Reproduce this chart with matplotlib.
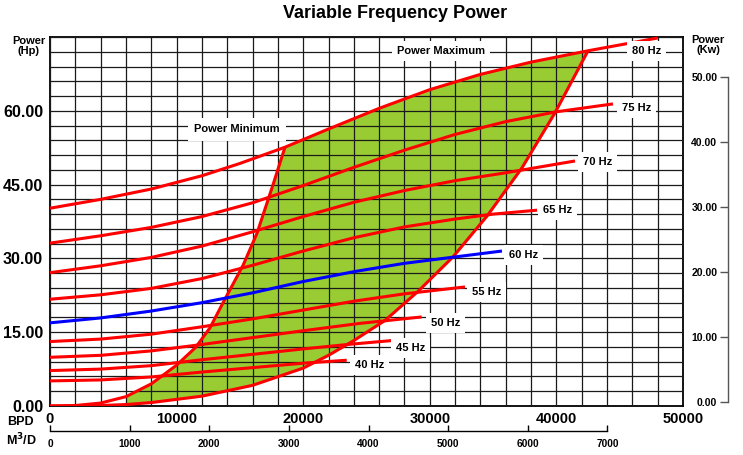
import numpy as np
import matplotlib
matplotlib.use("Agg")
import matplotlib.pyplot as plt
from matplotlib.ticker import MultipleLocator, FixedLocator

plt.rcParams['font.family'] = ['Liberation Sans', 'DejaVu Sans']
plt.rcParams['font.weight'] = 'bold'

# ---------------- data (BPD, Hp) ----------------
hz80_x = [0, 4000, 8000, 12000, 15000, 18560, 22000, 26000, 30000, 34000, 38000, 42500, 48000]
hz80_y = [40.2, 42.0, 44.1, 46.8, 49.3, 52.6, 56.3, 60.5, 64.3, 67.4, 69.9, 72.2, 74.8]

hz75_x = [0, 4000, 8000, 12000, 16000, 20000, 24000, 28000, 32000, 36000, 40000, 44470]
hz75_y = [33.1, 34.6, 36.3, 38.5, 41.3, 44.8, 48.5, 52.0, 55.2, 57.8, 59.8, 61.4]

hz70_x = [0, 4000, 8000, 12000, 16000, 20000, 24000, 28000, 32000, 36000, 41470]
hz70_y = [27.1, 28.5, 30.2, 32.5, 35.4, 38.5, 41.4, 43.8, 45.8, 47.4, 49.8]

hz65_x = [0, 4000, 8000, 12000, 16000, 20000, 24000, 28000, 32000, 35000, 38470]
hz65_y = [21.7, 22.6, 23.9, 25.9, 28.6, 31.5, 34.2, 36.4, 38.0, 39.0, 39.8]

hz60_x = [0, 4000, 8000, 12000, 16000, 20000, 24000, 28000, 32000, 35700]
hz60_y = [16.9, 17.9, 19.3, 21.0, 23.0, 25.3, 27.3, 29.0, 30.3, 31.5]

hz55_x = [0, 4000, 8000, 12000, 16000, 20000, 24000, 28000, 32780]
hz55_y = [13.1, 13.6, 14.6, 16.1, 17.7, 19.5, 21.3, 22.8, 24.2]

hz50_x = [0, 4000, 8000, 12000, 16000, 20000, 24500, 29360]
hz50_y = [9.9, 10.3, 11.2, 12.5, 13.9, 15.3, 16.8, 18.1]

hz45_x = [0, 4000, 8000, 12000, 16000, 20000, 23500, 27000]
hz45_y = [7.2, 7.5, 8.2, 9.4, 10.5, 11.6, 12.5, 13.3]

hz40_x = [0, 4000, 8000, 12000, 16000, 20000, 23440]
hz40_y = [5.1, 5.3, 5.9, 6.9, 7.8, 8.7, 9.3]

min_x = [0, 2000, 4000, 6000, 8000, 10000, 11500, 12640, 13670, 15250, 16350, 17620, 18560]
min_y = [0, 0.1, 0.6, 1.9, 4.5, 8.3, 11.9, 15.9, 21.0, 28.6, 35.1, 45.0, 52.6]

max_x = [0, 4000, 6000, 8000, 12000, 16000, 20000, 22000, 24000, 26470, 29070, 31830, 34520, 37280, 39890, 42500]
max_y = [0, 0.1, 0.3, 0.7, 2.0, 4.2, 7.7, 10.3, 13.3, 17.4, 23.3, 30.3, 38.6, 48.4, 59.6, 72.2]

freq_labels = ['80 Hz', '75 Hz', '70 Hz', '65 Hz', '60 Hz', '55 Hz', '50 Hz', '45 Hz', '40 Hz']
curves_x = [hz80_x, hz75_x, hz70_x, hz65_x, hz60_x, hz55_x, hz50_x, hz45_x, hz40_x]
curves_y = [hz80_y, hz75_y, hz70_y, hz65_y, hz60_y, hz55_y, hz50_y, hz45_y, hz40_y]

hp_ticks = [0, 15, 30, 45, 60]
kw_ticks = [0, 10, 20, 30, 40, 50]
bpd_ticks = [0, 10000, 20000, 30000, 40000, 50000]
m3_ticks = [0, 1000, 2000, 3000, 4000, 5000, 6000, 7000]

# ---------------- styles ----------------
curve_colors = ['#ff0000'] * 4 + ['#0000ff'] + ['#ff0000'] * 4
label_offsets = [(-26, -13), (9, -4), (8, -1), (6, 0), (7, -4), (7, -5), (9, -6), (4, -7), (8, -5)]

W, H = 743, 455
fig = plt.figure(figsize=(W / 100, H / 100), dpi=100)
L, R, T, B = 50, 683, 37, 406
ax = fig.add_axes([L / W, 1 - B / H, (R - L) / W, (B - T) / H])
ax.set_xlim(0, 50000)
ax.set_ylim(0, 75)

# green region
mn_x = np.array(min_x); mn_y = np.array(min_y)
mx_x = np.array(max_x); mx_y = np.array(max_y)
h8x = np.array(hz80_x); h8y = np.array(hz80_y)
sel_min = mn_x >= 6000
sel_80 = (h8x > 18560) & (h8x < 42500)
sel_max = mx_x >= 6000
poly_x = np.concatenate([mn_x[sel_min], h8x[sel_80], mx_x[sel_max][::-1]])
poly_y = np.concatenate([mn_y[sel_min], h8y[sel_80], mx_y[sel_max][::-1]])
ax.fill(poly_x, poly_y, color='#99cc33', zorder=1, lw=0)

# grid
ax.xaxis.set_major_locator(FixedLocator(bpd_ticks))
ax.xaxis.set_minor_locator(MultipleLocator(2000))
ax.yaxis.set_major_locator(FixedLocator(hp_ticks))
ax.yaxis.set_minor_locator(MultipleLocator(3))
ax.grid(True, which='both', color='#1a1a1a', lw=0.9, zorder=1.5)
ax.set_axisbelow(False)
ax.tick_params(which='both', length=0)
ax.tick_params(axis='y', labelsize=11.5, pad=5)
ax.tick_params(axis='x', labelsize=10.5, pad=4)
ax.set_yticklabels([f'{v:.2f}' for v in hp_ticks], fontweight='bold')
ax.set_xticklabels([str(v) for v in bpd_ticks], fontweight='bold')
for s in ax.spines.values():
    s.set_linewidth(1.3)
    s.set_color('black')

# curves
ax.plot(min_x, min_y, color='#ff0000', lw=2.2, zorder=3, solid_capstyle='butt', solid_joinstyle='round')
ax.plot(max_x, max_y, color='#ff0000', lw=2.2, zorder=3, solid_capstyle='butt', solid_joinstyle='round')
for cx, cy, col, lab, off in zip(curves_x, curves_y, curve_colors, freq_labels, label_offsets):
    ax.plot(cx, cy, color=col, lw=2.2, zorder=3, solid_capstyle='butt', solid_joinstyle='round',
            clip_on=False)
    ax.annotate(lab, (cx[-1], cy[-1]), xytext=off, textcoords='offset pixels',
                ha='left', va='center', fontsize=8, fontweight='bold', zorder=6,
                bbox=dict(boxstyle='square,pad=0.45', fc='white', ec='none'))

ax.text(14770, 56.2, 'Power Minimum', ha='center', va='center', fontsize=8, fontweight='bold',
        zorder=6, bbox=dict(boxstyle='square,pad=0.55', fc='white', ec='none'))
ax.text(30890, 72.1, 'Power Maximum', ha='center', va='center', fontsize=8, fontweight='bold',
        zorder=6, bbox=dict(boxstyle='square,pad=0.45', fc='white', ec='none'))

# m3/d axis
sec = ax.secondary_xaxis((B - 430.7) / (B - T), functions=(lambda x: x / 6.2898, lambda x: x * 6.2898))
sec.xaxis.set_major_locator(FixedLocator(m3_ticks))
sec.set_xticklabels([str(v) for v in m3_ticks], fontweight='bold')
sec.tick_params(direction='in', length=4, width=1, labelsize=7.3, pad=6)
sec.spines['bottom'].set_bounds(0, 7000)
sec.spines['bottom'].set_linewidth(1.0)

# kw axis
kx = 727.7
ax2 = fig.add_axes([kx / W, 1 - B / H, 0.0005, (B - T) / H])
ax2.set_ylim((402 - B) / 6.506, (402 - T) / 6.506)
ax2.set_xticks([])
for k in ['top', 'right', 'bottom']:
    ax2.spines[k].set_visible(False)
ax2.spines['left'].set_bounds(0, 50)
ax2.spines['left'].set_color('#555555')
ax2.spines['left'].set_linewidth(1.0)
ax2.yaxis.set_major_locator(FixedLocator(kw_ticks))
ax2.set_yticklabels([f'{v:.2f}' for v in kw_ticks], fontweight='bold')
ax2.tick_params(axis='y', direction='out', length=6, width=1, color='#555555', labelsize=7.5, pad=1.5)
ax2.patch.set_visible(False)

# texts
fig.text(395 / W, 1 - 13 / H, 'Variable Frequency Power', ha='center', va='center',
         fontsize=13, fontweight='bold')
fig.text(29 / W, 1 - 46 / H, 'Power\n(Hp)', ha='center', va='center', fontsize=8,
         fontweight='bold', linespacing=1.1)
fig.text(708 / W, 1 - 45 / H, 'Power\n(Kw)', ha='center', va='center', fontsize=8,
         fontweight='bold', linespacing=1.1)
fig.text(20 / W, 1 - 422 / H, 'BPD', ha='center', va='center', fontsize=9, fontweight='bold')
fig.text(21 / W, 1 - 440 / H, 'M$^{\\mathbf{3}}$/D', ha='center', va='center', fontsize=9,
         fontweight='bold')

fig.savefig('out.png', dpi=100)
